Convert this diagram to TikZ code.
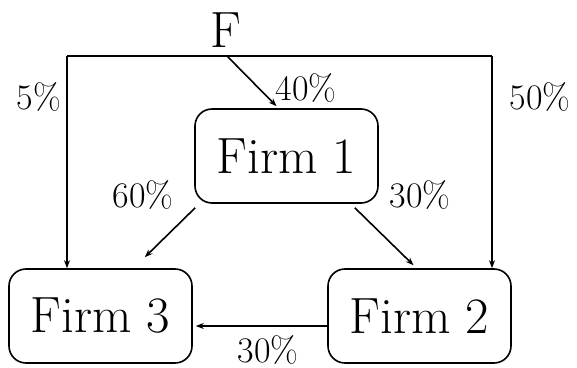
\documentclass[tikz,border=0pt]{standalone}
\usepackage{tikz}
\usetikzlibrary{arrows.meta}

\tikzset{
  firm/.style={draw, rounded corners=8.5pt, minimum width=91.5pt, minimum height=47pt,
    inner sep=0pt, font=\fontsize{25.5}{30}\selectfont},
  pct/.style={anchor=base, inner sep=0pt, font=\fontsize{18}{22}\selectfont},
  flow/.style={-{Stealth[length=4pt,width=3pt]}}
}

\begin{document}
\begin{tikzpicture}[x=0.5pt, y=-0.5pt, line width=0.8pt]
\useasboundingbox (0,0) rectangle (577,368);

% Firms
\node[firm] (firm1) at (286.5,156) {Firm 1};
\node[firm] (firm3) at (100.5,316) {Firm 3};
\node[firm] (firm2) at (419.5,316) {Firm 2};

% Outside source
\node[anchor=base, inner sep=0pt, font=\fontsize{25.5}{30}\selectfont] (src) at (226,48) {F};
\coordinate (tl) at (67,56);
\coordinate (tr) at (492,56);
\coordinate (fout) at (227,56);

% Top bar and side arrows
\draw (tl) -- (tr);
\draw[flow] (tl) -- (tl |- firm3.north);
\draw[flow] (tr) -- (tr |- firm2.north);
\draw[flow] (fout) -- ([xshift=-5pt,yshift=1pt]firm1.north);

% Arrows between firms
\draw[flow] ([xshift=0.5pt,yshift=-2pt]firm1.south west) -- ([xshift=-24pt,yshift=5.5pt]firm3.north east);
\draw[flow] ([xshift=-12pt,yshift=-2pt]firm1.south east) -- ([xshift=-3pt,yshift=1.5pt]firm2.north);
\draw[flow] ([yshift=-5pt]firm2.west) -- ([xshift=1.5pt,yshift=-5pt]firm3.east);

% Shares
\node[pct] (p5) at (39,110) {5\%};
\node[pct] (p50) at (540,110) {50\%};
\node[pct] (p40) at (306,101) {40\%};
\node[pct] (p60) at (143,208) {60\%};
\node[pct] (p30a) at (420,208) {30\%};
\node[pct] (p30b) at (268,362) {30\%};

\end{tikzpicture}
\end{document}
